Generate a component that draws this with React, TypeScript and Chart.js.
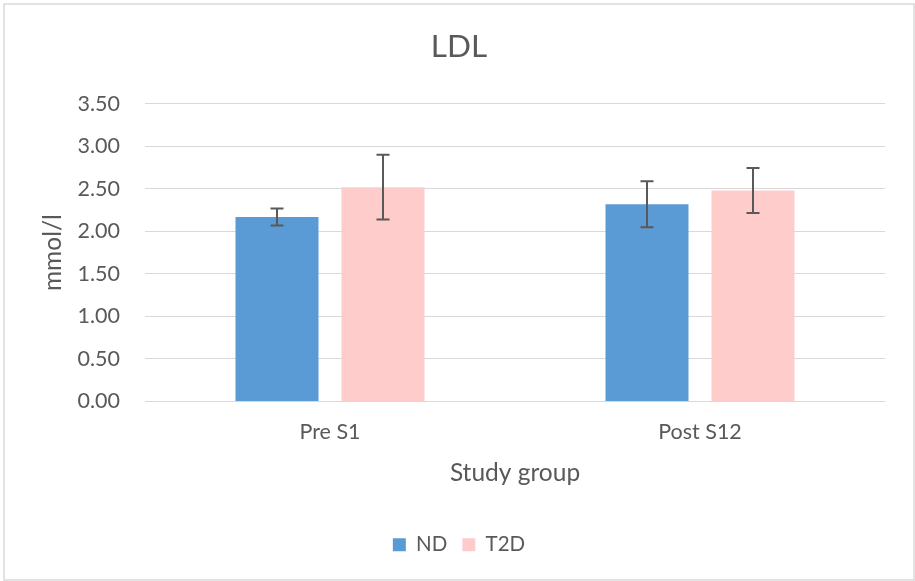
import React, { useEffect, useRef } from "react";
import { Chart, registerables } from "chart.js";

Chart.register(...registerables);

const chartTitle = "LDL";
const categories = ["Pre S1", "Post S12"];
const seriesNames = ["ND", "T2D"];
const ndMeans = [2.17, 2.32];
const ndErrors = [0.1, 0.27];
const t2dMeans = [2.52, 2.48];
const t2dErrors = [0.38, 0.265];
const yAxisTitle = "mmol/l";
const xAxisTitle = "Study group";
const yMin = 0;
const yMax = 3.5;
const yStep = 0.5;

const TEXT = "#595959";
const GRID = "#D9D9D9";
const FONT = "Lato";

const errorSets = [ndErrors, t2dErrors];

const frameAndErrors = {
  id: "frameAndErrors",
  beforeDraw(chart: any) {
    const ctx = chart.ctx;
    ctx.save();
    ctx.fillStyle = "#ffffff";
    ctx.fillRect(0, 0, chart.width, chart.height);
    ctx.strokeStyle = GRID;
    ctx.lineWidth = 1.5;
    ctx.strokeRect(4, 4, chart.width - 5, chart.height - 5);
    ctx.restore();
  },
  afterDatasetsDraw(chart: any) {
    const ctx = chart.ctx;
    const y = chart.scales.y;
    chart.data.datasets.forEach((ds: any, di: number) => {
      const meta = chart.getDatasetMeta(di);
      const errs = errorSets[di];
      meta.data.forEach((bar: any, i: number) => {
        const v = ds.data[i];
        const e = errs[i];
        const x = bar.x;
        const yt = y.getPixelForValue(v + e);
        const yb = y.getPixelForValue(v - e);
        ctx.save();
        ctx.strokeStyle = TEXT;
        ctx.lineWidth = 2;
        ctx.beginPath();
        ctx.moveTo(x, yt);
        ctx.lineTo(x, yb);
        ctx.moveTo(x - 6.5, yt);
        ctx.lineTo(x + 6.5, yt);
        ctx.moveTo(x - 6.5, yb);
        ctx.lineTo(x + 6.5, yb);
        ctx.stroke();
        ctx.restore();
      });
    });
  },
};

export default function App() {
  const ref = useRef<HTMLCanvasElement | null>(null);

  useEffect(() => {
    if (!ref.current) return;
    const chart = new Chart(ref.current, {
      type: "bar",
      data: {
        labels: categories,
        datasets: [
          {
            label: seriesNames[0],
            data: ndMeans,
            backgroundColor: "#5B9BD5",
            borderWidth: 0,
            categoryPercentage: 0.573,
            barPercentage: 0.783,
          },
          {
            label: seriesNames[1],
            data: t2dMeans,
            backgroundColor: "#FFCCCC",
            borderWidth: 0,
            categoryPercentage: 0.573,
            barPercentage: 0.783,
          },
        ],
      },
      options: {
        responsive: false,
        animation: false,
        layout: { padding: { left: 33, right: 30, top: 0, bottom: 16 } },
        plugins: {
          title: {
            display: true,
            text: chartTitle,
            color: TEXT,
            font: { family: FONT, size: 31.5, weight: "normal" },
            padding: { top: 28, bottom: 38 },
          },
          legend: {
            position: "bottom",
            labels: {
              color: TEXT,
              font: { family: FONT, size: 20.5 },
              boxWidth: 13,
              boxHeight: 13,
              padding: 15,
            },
          },
          tooltip: { enabled: false },
        },
        scales: {
          x: {
            grid: { display: false },
            border: { display: false },
            ticks: {
              color: TEXT,
              font: { family: FONT, size: 21.5 },
              padding: 10,
            },
            title: {
              display: true,
              text: xAxisTitle,
              color: TEXT,
              font: { family: FONT, size: 24.5 },
              padding: { top: 0, bottom: 32 },
            },
            afterFit: (s: any) => {
              s.height = 118;
            },
          },
          y: {
            min: yMin,
            max: yMax,
            grid: { color: GRID, lineWidth: 1, drawTicks: false },
            border: { display: false },
            ticks: {
              stepSize: yStep,
              color: TEXT,
              font: { family: FONT, size: 21.5 },
              padding: 25,
              callback: (v: any) => Number(v).toFixed(2),
            },
            title: {
              display: true,
              text: yAxisTitle,
              color: TEXT,
              font: { family: FONT, size: 24.5 },
              padding: { top: 5, bottom: 0 },
            },
            afterFit: (s: any) => {
              s.width = 112;
            },
          },
        },
      },
      plugins: [frameAndErrors],
    });
    return () => chart.destroy();
  }, []);

  return (
    <div style={{ position: "fixed", left: 0, top: 0, width: 915, height: 581 }}>
      <canvas ref={ref} width={915} height={581} style={{ width: 915, height: 581 }} />
    </div>
  );
}
